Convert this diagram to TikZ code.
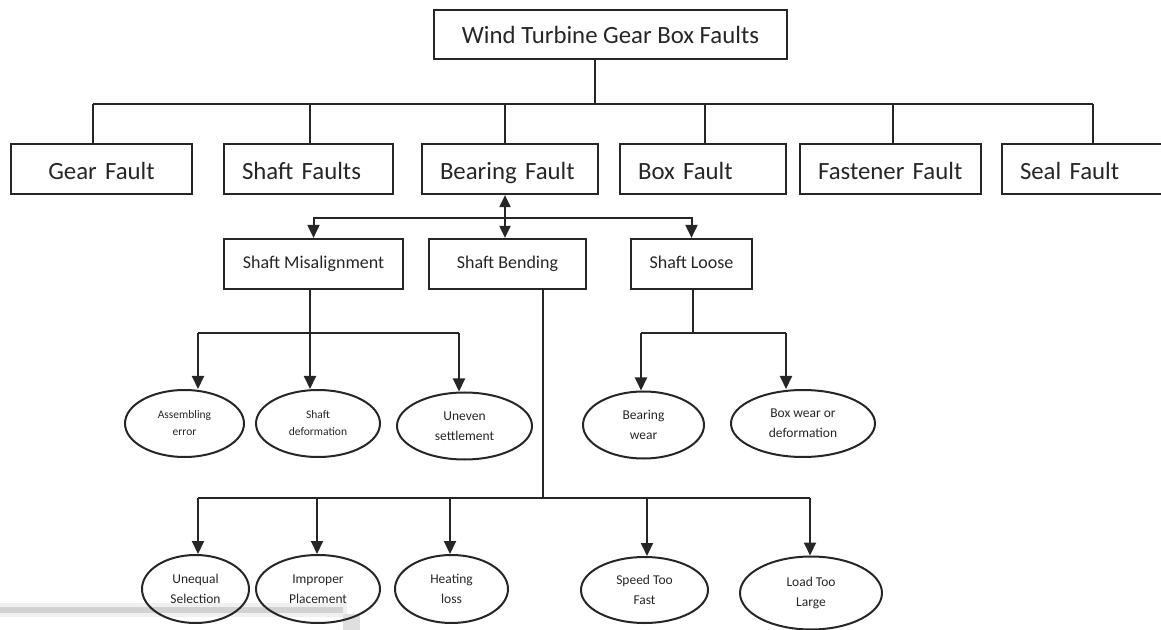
\documentclass[tikz,border=0pt]{standalone}
\usepackage{fontspec}
\setmainfont{Carlito}
\usetikzlibrary{shapes.geometric, arrows.meta}

\begin{document}
\begin{tikzpicture}[
    x=0.5pt, y=-0.5pt,
    % Node styles
    topbox/.style={rectangle, draw=black!85, line width=1.1pt, minimum width=176.5pt, minimum height=24.5pt, inner sep=0pt, font=\fontsize{12.4}{14}\selectfont, text=black!85},
    faultbox/.style={rectangle, draw=black!85, line width=1.1pt, minimum height=25pt, inner xsep=9pt, inner ysep=0pt, text height=11pt, text depth=0.2pt, align=left, font=\fontsize{12.4}{14}\selectfont, text=black!85},
    subbox/.style={rectangle, draw=black!85, line width=1.1pt, minimum height=25pt, inner sep=0pt, text height=6.3pt, text depth=1.9pt, font=\fontsize{9}{11}\selectfont, text=black!85},
    cause/.style={ellipse, draw=black!85, line width=1pt, inner sep=0pt, align=center, font=\fontsize{6.75}{10}\selectfont, text=black!85},
    smallcause/.style={cause, font=\fontsize{5.75}{8.5}\selectfont},
    % Edge styles
    link/.style={draw=black!85, line width=1pt},
    arr/.style={link, -{Triangle[length=6.5pt, width=6pt]}},
    twoway/.style={link, {Triangle[length=6pt, width=5.5pt]}-{Triangle[length=6pt, width=5.5pt]}}
]
\useasboundingbox (0,0) rectangle (1161,630);

% -----------------------------------------------------------
% Scan artefact (bottom left)
% -----------------------------------------------------------
\fill[gray!12] (0,603) rectangle (347,617);
\fill[gray!35] (0,607) rectangle (343,613);
\fill[gray!25] (343,614) rectangle (360,630);

% -----------------------------------------------------------
% ROW 0: root
% -----------------------------------------------------------
\node[topbox] (root) at (610.5,34.5) {Wind Turbine Gear Box Faults};

% -----------------------------------------------------------
% ROW 1: fault classes
% -----------------------------------------------------------
\node[faultbox, text width=72.5pt, align=center] (gear) at (101.5,169) {Gear Fault};
\node[faultbox, text width=66.5pt] (shaft) at (308.5,169) {Shaft Faults};
\node[faultbox, text width=70pt] (bearing) at (510,169) {Bearing Fault};
\node[faultbox, text width=65pt] (box) at (703,169) {Box Fault};
\node[faultbox, text width=72.5pt] (fastener) at (890.5,169) {Fastener Fault};
\node[faultbox, text width=82pt] (seal) at (1102,169) {Seal Fault};

% -----------------------------------------------------------
% ROW 2: shaft fault types
% -----------------------------------------------------------
\node[subbox, minimum width=89.5pt] (misalign) at (313.5,264) {Shaft Misalignment};
\node[subbox, minimum width=78.5pt] (bending) at (507.5,264) {Shaft Bending};
\node[subbox, minimum width=60.5pt] (loose) at (691.5,264) {Shaft Loose};

% -----------------------------------------------------------
% ROW 3: causes (upper ellipses)
% -----------------------------------------------------------
\node[smallcause, minimum width=59.5pt, minimum height=33.5pt] (assem) at (184.5,423.5) {Assembling\\error};
\node[smallcause, minimum width=62pt, minimum height=33.5pt] (sdeform) at (318,423.5) {Shaft\\deformation};
\node[cause, minimum width=67.5pt, minimum height=33.5pt] (uneven) at (464.5,426) {Uneven\\settlement};
\node[cause, minimum width=60.5pt, minimum height=33.5pt] (bwear) at (643.5,425) {Bearing\\wear};
\node[cause, minimum width=72pt, minimum height=33.5pt] (boxwear) at (803,423.5) {Box wear or\\deformation};

% -----------------------------------------------------------
% ROW 4: causes (lower ellipses)
% -----------------------------------------------------------
\node[cause, minimum width=53.5pt, minimum height=34pt] (unequal) at (195.5,589) {Unequal\\Selection};
\node[cause, minimum width=62pt, minimum height=34pt] (improper) at (318,589) {Improper\\Placement};
\node[cause, minimum width=56.5pt, minimum height=34pt] (heating) at (451.5,589) {Heating\\loss};
\node[cause, minimum width=63.5pt, minimum height=33pt] (speed) at (644.5,590) {Speed Too\\Fast};
\node[cause, minimum width=71pt, minimum height=36.5pt] (load) at (811,593) {Load Too\\Large};

% -----------------------------------------------------------
% Junctions
% -----------------------------------------------------------
\coordinate (trunk) at (595,104);
\foreach \n/\x in {gear/93, shaft/310, bearing/505, box/704.5, fastener/893, seal/1093}
    \coordinate (\n-out) at (\x,104);
\coordinate (split) at (505,218);
\foreach \n/\x in {assem/198, sdeform/310, uneven/459, bwear/641, boxwear/786}
    \coordinate (\n-in) at (\x,333);
\coordinate (loosej) at (693,333);
\foreach \n/\x in {unequal/198, improper/317, heating/450, speed/647, load/810}
    \coordinate (\n-in) at (\x,498);
\coordinate (bendj) at (543,498);

% -----------------------------------------------------------
% Connectors
% -----------------------------------------------------------
\draw[link] (root.south -| trunk) -- (trunk);
\draw[link] (gear-out) -- (seal-out);
\foreach \n in {gear, shaft, bearing, box, fastener, seal}
    \draw[link] (\n-out) -- (\n-out |- \n.north);

% Bearing fault <-> shaft faults
\draw[twoway] (bearing.south -| split) -- (bending.north -| split);
\draw[arr] (split) -| (misalign.north);
\draw[arr] (split) -| (loose.north);

% Shaft misalignment
\draw[link] (misalign.south -| sdeform-in) -- (sdeform-in);
\draw[link] (assem-in) -- (uneven-in);
\foreach \n in {assem, sdeform, uneven}
    \draw[arr] (\n-in) -- (\n-in |- \n.north);

% Shaft loose
\draw[link] (loose.south -| loosej) -- (loosej);
\draw[link] (bwear-in) -- (boxwear-in);
\foreach \n in {bwear, boxwear}
    \draw[arr] (\n-in) -- (\n-in |- \n.north);

% Shaft bending
\draw[link] (bending.south -| bendj) -- (bendj);
\draw[link] (unequal-in) -- (load-in);
\foreach \n in {unequal, improper, heating, speed, load}
    \draw[arr] (\n-in) -- (\n-in |- \n.north);

\end{tikzpicture}
\end{document}
